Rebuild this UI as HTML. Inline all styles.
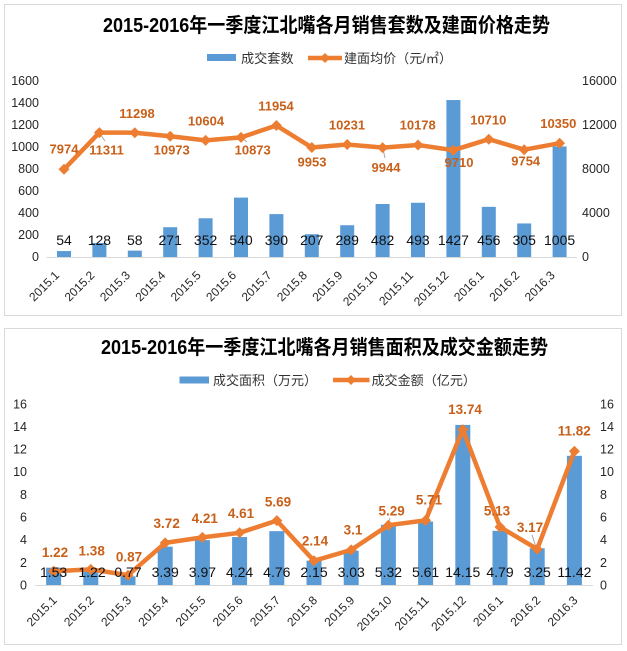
<!DOCTYPE html>
<html><head><meta charset="utf-8"><style>
html,body{margin:0;padding:0;background:#fff;}
svg{display:block;}
text{font-family:"Liberation Sans","Noto Sans CJK SC",sans-serif;}
.t{font-weight:bold;font-size:20px;fill:#000;}
.lg{font-size:13px;fill:#333;}
.ax{font-size:12.5px;fill:#262626;}
.xl{font-size:12px;fill:#262626;}
.ol{font-size:13px;font-weight:bold;fill:#C9601A;text-anchor:middle;}
.bl{font-size:14px;fill:#111;text-anchor:middle;}
</style></head><body>
<svg width="627" height="651" viewBox="0 0 627 651" xmlns="http://www.w3.org/2000/svg">
<rect x="0" y="0" width="627" height="651" fill="#fff"/>
<!-- Panel 1 -->
<rect x="4.5" y="4.5" width="617" height="311" fill="#fff" stroke="#d9d9d9" stroke-width="1"/>
<text class="t" x="103" y="32" textLength="447" lengthAdjust="spacingAndGlyphs">2015-2016年一季度江北嘴各月销售套数及建面价格走势</text>
<rect x="207" y="54" width="29" height="7" fill="#5B9BD5"/>
<text class="lg" x="241" y="63" textLength="52.6" lengthAdjust="spacingAndGlyphs">成交套数</text>
<line x1="308" y1="58" x2="342" y2="58" stroke="#ED7D31" stroke-width="4.5"/>
<polygon points="325,53 330,58 325,63 320,58" fill="#ED7D31"/>
<text class="lg" x="344" y="63" textLength="108" lengthAdjust="spacingAndGlyphs">建面均价（元/㎡）</text>
<g class="ax" text-anchor="end">
<text x="39" y="85">1600</text><text x="39" y="107">1400</text><text x="39" y="129">1200</text><text x="39" y="151">1000</text><text x="39" y="173">800</text><text x="39" y="195">600</text><text x="39" y="217">400</text><text x="39" y="239">200</text><text x="39" y="261">0</text>
</g>
<g class="ax" text-anchor="start">
<text x="582" y="85">16000</text><text x="582" y="129">12000</text><text x="582" y="173">8000</text><text x="582" y="217">4000</text><text x="582" y="261">0</text>
</g>
<g fill="#5B9BD5">
<rect x="57.0" y="251.06" width="14" height="5.94"/>
<rect x="92.4" y="242.92" width="14" height="14.08"/>
<rect x="127.8" y="250.62" width="14" height="6.38"/>
<rect x="163.2" y="227.19" width="14" height="29.81"/>
<rect x="198.6" y="218.28" width="14" height="38.72"/>
<rect x="234.0" y="197.6" width="14" height="59.4"/>
<rect x="269.4" y="214.1" width="14" height="42.9"/>
<rect x="304.8" y="234.23" width="14" height="22.77"/>
<rect x="340.2" y="225.21" width="14" height="31.79"/>
<rect x="375.6" y="203.98" width="14" height="53.02"/>
<rect x="411.0" y="202.77" width="14" height="54.23"/>
<rect x="446.4" y="100.03" width="14" height="156.97"/>
<rect x="481.8" y="206.84" width="14" height="50.16"/>
<rect x="517.2" y="223.45" width="14" height="33.55"/>
<rect x="552.6" y="146.45" width="14" height="110.55"/>
</g>
<line x1="46.5" y1="257.5" x2="577" y2="257.5" stroke="#d9d9d9" stroke-width="1"/>
<g class="xl" text-anchor="end">
<text transform="translate(60,276) rotate(-45)">2015.1</text>
<text transform="translate(95.4,276) rotate(-45)">2015.2</text>
<text transform="translate(130.8,276) rotate(-45)">2015.3</text>
<text transform="translate(166.2,276) rotate(-45)">2015.4</text>
<text transform="translate(201.6,276) rotate(-45)">2015.5</text>
<text transform="translate(237,276) rotate(-45)">2015.6</text>
<text transform="translate(272.4,276) rotate(-45)">2015.7</text>
<text transform="translate(307.8,276) rotate(-45)">2015.8</text>
<text transform="translate(343.2,276) rotate(-45)">2015.9</text>
<text transform="translate(378.6,276) rotate(-45)">2015.10</text>
<text transform="translate(414,276) rotate(-45)">2015.11</text>
<text transform="translate(449.4,276) rotate(-45)">2015.12</text>
<text transform="translate(484.8,276) rotate(-45)">2016.1</text>
<text transform="translate(520.2,276) rotate(-45)">2016.2</text>
<text transform="translate(555.6,276) rotate(-45)">2016.3</text>
</g>
<g stroke="#a6a6a6" stroke-width="1">
<line x1="100" y1="134" x2="105" y2="141"/>
<line x1="242" y1="138" x2="247" y2="142"/>
<line x1="383" y1="149" x2="385" y2="158"/>
</g>
<polyline fill="none" stroke="#ED7D31" stroke-width="4.5" stroke-linejoin="round" points="64,169.3 99.4,132.6 134.8,132.7 170.2,136.3 205.6,140.4 241,137.4 276.4,125.5 311.8,147.5 347.2,144.5 382.6,147.6 418,145 453.4,150.2 488.8,139.2 524.2,149.7 559.6,143.2"/>
<g fill="#ED7D31">
<polygon points="64,163.8 69.5,169.3 64,174.8 58.5,169.3"/>
<polygon points="99.4,127.1 104.9,132.6 99.4,138.1 93.9,132.6"/>
<polygon points="134.8,127.2 140.3,132.7 134.8,138.2 129.3,132.7"/>
<polygon points="170.2,130.8 175.7,136.3 170.2,141.8 164.7,136.3"/>
<polygon points="205.6,134.9 211.1,140.4 205.6,145.9 200.1,140.4"/>
<polygon points="241,131.9 246.5,137.4 241,142.9 235.5,137.4"/>
<polygon points="276.4,120 281.9,125.5 276.4,131 270.9,125.5"/>
<polygon points="311.8,142 317.3,147.5 311.8,153 306.3,147.5"/>
<polygon points="347.2,139 352.7,144.5 347.2,150 341.7,144.5"/>
<polygon points="382.6,142.1 388.1,147.6 382.6,153.1 377.1,147.6"/>
<polygon points="418,139.5 423.5,145 418,150.5 412.5,145"/>
<polygon points="453.4,144.7 458.9,150.2 453.4,155.7 447.9,150.2"/>
<polygon points="488.8,133.7 494.3,139.2 488.8,144.7 483.3,139.2"/>
<polygon points="524.2,144.2 529.7,149.7 524.2,155.2 518.7,149.7"/>
<polygon points="559.6,137.7 565.1,143.2 559.6,148.7 554.1,143.2"/>
</g>
<g class="ol">
<text x="64" y="153.7">7974</text>
<text x="106.5" y="154.7">11311</text>
<text x="137" y="118">11298</text>
<text x="171.7" y="154.7">10973</text>
<text x="206" y="125.4">10604</text>
<text x="252.7" y="154.7">10873</text>
<text x="276" y="110.4">11954</text>
<text x="312" y="166.4">9953</text>
<text x="347" y="129.7">10231</text>
<text x="386" y="172">9944</text>
<text x="417.7" y="129.7">10178</text>
<text x="459" y="167">9710</text>
<text x="488.3" y="124.7">10710</text>
<text x="525.7" y="165.7">9754</text>
<text x="558.3" y="128">10350</text>
</g>
<g class="bl">
<text x="64" y="245">54</text><text x="99.4" y="245">128</text><text x="134.8" y="245">58</text><text x="170.2" y="245">271</text><text x="205.6" y="245">352</text><text x="241" y="245">540</text><text x="276.4" y="245">390</text><text x="311.8" y="245">207</text><text x="347.2" y="245">289</text><text x="382.6" y="245">482</text><text x="418" y="245">493</text><text x="453.4" y="245">1427</text><text x="488.8" y="245">456</text><text x="524.2" y="245">305</text><text x="559.6" y="245">1005</text>
</g>

<!-- Panel 2 -->
<rect x="4.5" y="328.5" width="617" height="316" fill="#fff" stroke="#d9d9d9" stroke-width="1"/>
<text class="t" x="101" y="354" textLength="447" lengthAdjust="spacingAndGlyphs">2015-2016年一季度江北嘴各月销售面积及成交金额走势</text>
<rect x="179.5" y="376.5" width="29.5" height="7" fill="#5B9BD5"/>
<text class="lg" x="213" y="385" textLength="104" lengthAdjust="spacingAndGlyphs">成交面积（万元）</text>
<line x1="333" y1="380" x2="369.5" y2="380" stroke="#ED7D31" stroke-width="4.5"/>
<polygon points="351,375 356,380 351,385 346,380" fill="#ED7D31"/>
<text class="lg" x="371.5" y="385" textLength="104.5" lengthAdjust="spacingAndGlyphs">成交金额（亿元）</text>
<g class="ax" text-anchor="end">
<text x="27" y="408.5">16</text><text x="27" y="431">14</text><text x="27" y="453.5">12</text><text x="27" y="476">10</text><text x="27" y="499">8</text><text x="27" y="521.5">6</text><text x="27" y="544">4</text><text x="27" y="567">2</text><text x="27" y="589.5">0</text>
</g>
<g class="ax" text-anchor="start">
<text x="600" y="408.5">16</text><text x="600" y="431">14</text><text x="600" y="453.5">12</text><text x="600" y="476">10</text><text x="600" y="499">8</text><text x="600" y="521.5">6</text><text x="600" y="544">4</text><text x="600" y="567">2</text><text x="600" y="589.5">0</text>
</g>
<g fill="#5B9BD5">
<rect x="46.1" y="567.69" width="15" height="17.31"/>
<rect x="83.3" y="571.2" width="15" height="13.8"/>
<rect x="120.5" y="576.29" width="15" height="8.71"/>
<rect x="157.7" y="546.65" width="15" height="38.35"/>
<rect x="194.9" y="540.09" width="15" height="44.91"/>
<rect x="232.1" y="537.03" width="15" height="47.97"/>
<rect x="269.3" y="531.15" width="15" height="53.85"/>
<rect x="306.5" y="560.68" width="15" height="24.32"/>
<rect x="343.7" y="550.72" width="15" height="34.28"/>
<rect x="380.9" y="524.82" width="15" height="60.18"/>
<rect x="418.1" y="521.54" width="15" height="63.46"/>
<rect x="455.3" y="424.93" width="15" height="160.07"/>
<rect x="492.5" y="530.81" width="15" height="54.19"/>
<rect x="529.7" y="548.23" width="15" height="36.77"/>
<rect x="566.9" y="455.81" width="15" height="129.19"/>
</g>
<line x1="35" y1="585.5" x2="593" y2="585.5" stroke="#d9d9d9" stroke-width="1"/>
<g class="xl" text-anchor="end">
<text transform="translate(57.6,601) rotate(-45)">2015.1</text>
<text transform="translate(94.8,601) rotate(-45)">2015.2</text>
<text transform="translate(132,601) rotate(-45)">2015.3</text>
<text transform="translate(169.2,601) rotate(-45)">2015.4</text>
<text transform="translate(206.4,601) rotate(-45)">2015.5</text>
<text transform="translate(243.6,601) rotate(-45)">2015.6</text>
<text transform="translate(280.8,601) rotate(-45)">2015.7</text>
<text transform="translate(318,601) rotate(-45)">2015.8</text>
<text transform="translate(355.2,601) rotate(-45)">2015.9</text>
<text transform="translate(392.4,601) rotate(-45)">2015.10</text>
<text transform="translate(429.6,601) rotate(-45)">2015.11</text>
<text transform="translate(466.8,601) rotate(-45)">2015.12</text>
<text transform="translate(504,601) rotate(-45)">2016.1</text>
<text transform="translate(541.2,601) rotate(-45)">2016.2</text>
<text transform="translate(578.4,601) rotate(-45)">2016.3</text>
</g>
<g stroke="#a6a6a6" stroke-width="1">
<line x1="425.6" y1="518" x2="428" y2="508"/>
<line x1="536" y1="547" x2="532" y2="535"/>
<line x1="388.4" y1="523" x2="390" y2="518"/>
</g>
<polyline fill="none" stroke="#ED7D31" stroke-width="4.5" stroke-linejoin="round" points="53.6,571.2 90.8,569.4 128,575.2 165.2,542.9 202.4,537.4 239.6,532.8 276.8,520.6 314,560.8 351.2,549.9 388.4,525.2 425.6,520.4 462.8,429.6 500,527 537.2,549.1 574.4,451.3"/>
<g fill="#ED7D31">
<polygon points="53.6,565.7 59.1,571.2 53.6,576.7 48.1,571.2"/>
<polygon points="90.8,563.9 96.3,569.4 90.8,574.9 85.3,569.4"/>
<polygon points="128,569.7 133.5,575.2 128,580.7 122.5,575.2"/>
<polygon points="165.2,537.4 170.7,542.9 165.2,548.4 159.7,542.9"/>
<polygon points="202.4,531.9 207.9,537.4 202.4,542.9 196.9,537.4"/>
<polygon points="239.6,527.3 245.1,532.8 239.6,538.3 234.1,532.8"/>
<polygon points="276.8,515.1 282.3,520.6 276.8,526.1 271.3,520.6"/>
<polygon points="314,555.3 319.5,560.8 314,566.3 308.5,560.8"/>
<polygon points="351.2,544.4 356.7,549.9 351.2,555.4 345.7,549.9"/>
<polygon points="388.4,519.7 393.9,525.2 388.4,530.7 382.9,525.2"/>
<polygon points="425.6,514.9 431.1,520.4 425.6,525.9 420.1,520.4"/>
<polygon points="462.8,424.1 468.3,429.6 462.8,435.1 457.3,429.6"/>
<polygon points="500,521.5 505.5,527 500,532.5 494.5,527"/>
<polygon points="537.2,543.6 542.7,549.1 537.2,554.6 531.7,549.1"/>
<polygon points="574.4,445.8 579.9,451.3 574.4,456.8 568.9,451.3"/>
</g>
<g class="ol" style="font-size:13.5px">
<text x="55" y="557">1.22</text>
<text x="91.7" y="555.4">1.38</text>
<text x="129" y="561.4">0.87</text>
<text x="166.7" y="528">3.72</text>
<text x="204.8" y="523">4.21</text>
<text x="241" y="518">4.61</text>
<text x="278" y="506.4">5.69</text>
<text x="315" y="545.7">2.14</text>
<text x="353" y="534.7">3.1</text>
<text x="391.6" y="515.4">5.29</text>
<text x="429" y="504.7">5.71</text>
<text x="465" y="414">13.74</text>
<text x="497" y="515.4">5.13</text>
<text x="530" y="532">3.17</text>
<text x="574.3" y="435.7">11.82</text>
</g>
<g class="bl">
<text x="53.6" y="577">1.53</text><text x="92" y="577">1.22</text><text x="128" y="577">0.77</text><text x="165.2" y="577">3.39</text><text x="202.4" y="577">3.97</text><text x="239.6" y="577">4.24</text><text x="276.8" y="577">4.76</text><text x="314" y="577">2.15</text><text x="351.2" y="577">3.03</text><text x="388.4" y="577">5.32</text><text x="425.6" y="577">5.61</text><text x="462.8" y="577">14.15</text><text x="500" y="577">4.79</text><text x="537.2" y="577">3.25</text><text x="574.4" y="577">11.42</text>
</g>
</svg>
</body></html>
